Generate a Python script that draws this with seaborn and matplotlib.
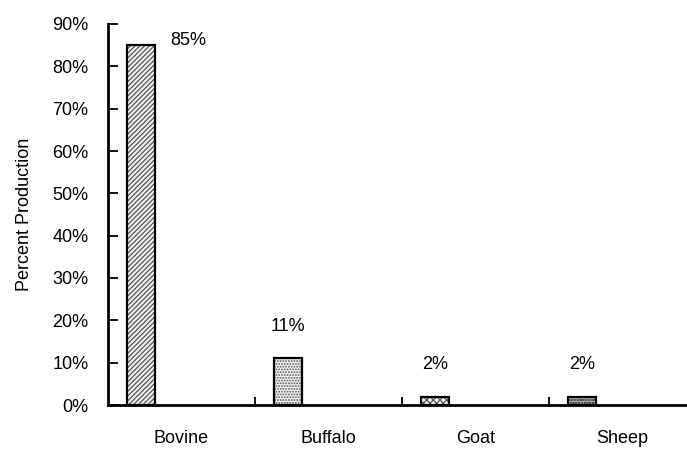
import numpy as np
import matplotlib
matplotlib.use("Agg")
import matplotlib.pyplot as plt
import seaborn as sns

# Share of production by species
categories = ["Bovine", "Buffalo", "Goat", "Sheep"]
values = [85, 11, 2, 2]
value_labels = ["85%", "11%", "2%", "2%"]
y_ticks = [0, 10, 20, 30, 40, 50, 60, 70, 80, 90]
y_tick_labels = ["0%", "10%", "20%", "30%", "40%", "50%", "60%", "70%", "80%", "90%"]

sns.set_theme(style="white")
plt.rcParams["font.family"] = ["Liberation Sans", "DejaVu Sans"]
plt.rcParams["hatch.linewidth"] = 0.9
for key in ["text.color", "axes.labelcolor", "xtick.color", "ytick.color"]:
    plt.rcParams[key] = "black"

W, H = 687, 450
fig = plt.figure(figsize=(W / 100, H / 100), dpi=100)
ax = fig.add_axes([108 / W, 45 / H, (696 - 108) / W, (405 - 24) / H])

# each bar sits in the left part of its category slot
bar_offset = -0.273
bar_width = 0.19
pos = np.arange(len(categories)) + bar_offset

hatches = ["///////", "......", "xxxxx", "oooooo"]

# hatched fill
sns.barplot(x=pos, y=values, native_scale=True, width=bar_width,
            color="white", edgecolor="#555555", linewidth=0, ax=ax,
            errorbar=None)
for p, h in zip(ax.patches, hatches):
    p.set_hatch(h)
    p.set_facecolor("#f2f2f2")
# black outline
sns.barplot(x=pos, y=values, native_scale=True, width=bar_width,
            fill=False, color="black", linewidth=1.6, ax=ax, errorbar=None)

ax.set_xlim(-0.5, len(categories) - 0.5)
ax.set_ylim(0, 90)

# value labels above bars, kept inside the plotting area
for i, (v, lab) in enumerate(zip(values, value_labels)):
    if v + 7.5 > 86.2:
        x_lab = pos[i] + 0.32
        y_lab = 86.2
    else:
        x_lab = pos[i]
        y_lab = v + 7.5
    ax.text(x_lab, y_lab, lab, ha="center", va="center", fontsize=13,
            color="black")

ax.set_yticks(y_ticks)
ax.set_yticklabels(y_tick_labels)
ax.tick_params(axis="y", direction="in", length=7, width=1.3, color="black",
               labelsize=13, pad=14, left=True)

# category boundary ticks on the x axis, labels at category centres
ax.set_xticks(np.arange(1, len(categories)) - 0.5)
ax.set_xticklabels([])
ax.set_xticks(np.arange(len(categories)), minor=True)
ax.set_xticklabels(categories, minor=True)
ax.tick_params(axis="x", which="major", direction="in", length=6, width=1.3,
               color="black", bottom=True)
ax.tick_params(axis="x", which="minor", length=0, labelsize=13, pad=18)

ax.set_ylabel("Percent Production", fontsize=13, labelpad=14)
ax.set_xlabel("")

for side in ["top", "right"]:
    ax.spines[side].set_visible(False)
for side in ["left", "bottom"]:
    ax.spines[side].set_color("black")
    ax.spines[side].set_linewidth(2)

fig.savefig("out.png", dpi=100)
